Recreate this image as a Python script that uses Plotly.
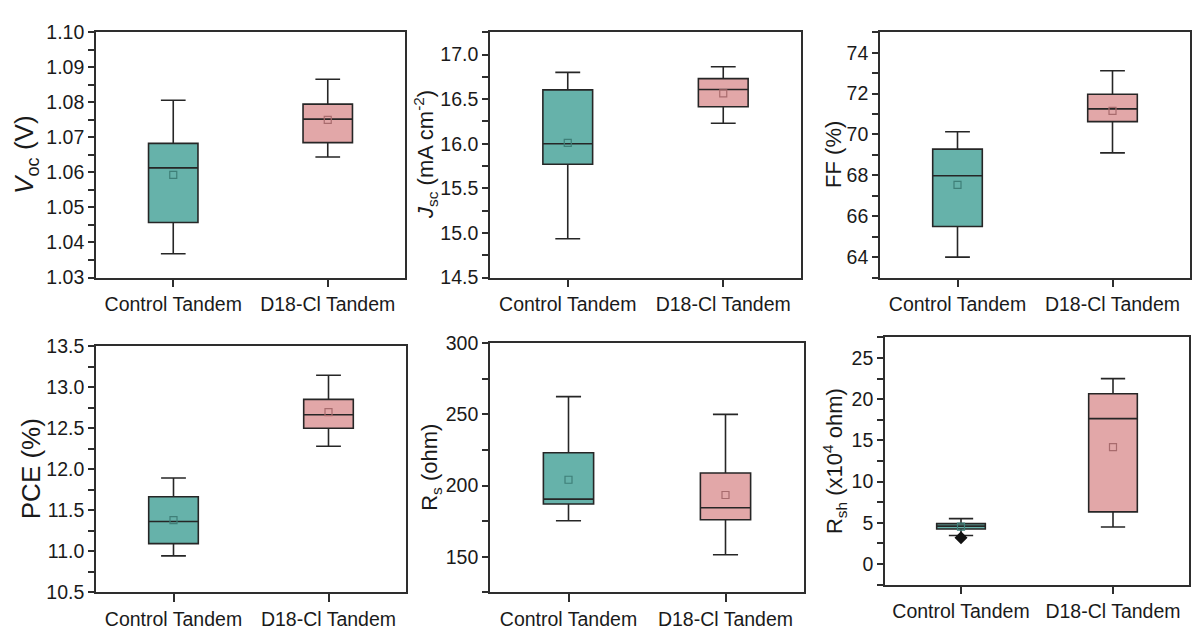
import plotly.graph_objects as go

W, H = 1192, 642

categories = ["Control Tandem", "D18-Cl Tandem"]
fill_colors = ["#66b2aa", "#e2a7a8"]
mean_colors = ["#3f7f78", "#a86b6d"]

# Box statistics per metric: [Control, D18-Cl]
voc_lower = [1.0368, 1.0644]
voc_q1 = [1.0457, 1.0685]
voc_median = [1.0613, 1.0752]
voc_q3 = [1.0683, 1.0795]
voc_upper = [1.0806, 1.0866]
voc_mean = [1.0593, 1.0750]

jsc_lower = [14.935, 16.23]
jsc_q1 = [15.77, 16.414]
jsc_median = [16.00, 16.608]
jsc_q3 = [16.604, 16.73]
jsc_upper = [16.80, 16.863]
jsc_mean = [16.01, 16.565]

ff_lower = [64.0, 69.10]
ff_q1 = [65.50, 70.63]
ff_median = [67.98, 71.25]
ff_q3 = [69.28, 71.97]
ff_upper = [70.13, 73.12]
ff_mean = [67.53, 71.15]

pce_lower = [10.945, 12.28]
pce_q1 = [11.094, 12.50]
pce_median = [11.363, 12.664]
pce_q3 = [11.664, 12.851]
pce_upper = [11.894, 13.145]
pce_mean = [11.38, 12.695]

rs_lower = [175.3, 151.4]
rs_q1 = [187.1, 176.0]
rs_median = [190.5, 184.4]
rs_q3 = [223.1, 208.8]
rs_upper = [262.5, 250.0]
rs_mean = [204.1, 193.4]

rsh_lower = [3.47, 4.49]
rsh_q1 = [4.25, 6.33]
rsh_median = [4.60, 17.65]
rsh_q3 = [4.90, 20.67]
rsh_upper = [5.51, 22.5]
rsh_mean = [4.55, 14.18]
rsh_outlier_control = [3.2]

AX = "#2e2e2e"
FONT = "Liberation Sans, Arial, sans-serif"
TXT = "#1a1a1a"

panels = [
    dict(stats=(voc_lower, voc_q1, voc_median, voc_q3, voc_upper, voc_mean),
         yr=[1.03, 1.10], dt=0.01, mdt=0.005, fmt=".2f",
         px=(96, 405, 22, 276), title="<i>V</i><sub>oc</sub> (V)", ts=26, tx=26),
    dict(stats=(jsc_lower, jsc_q1, jsc_median, jsc_q3, jsc_upper, jsc_mean),
         yr=[14.5, 17.25], dt=0.5, mdt=0.25, fmt=".1f",
         px=(490, 801, 22, 276), title="<i>J</i><sub>sc</sub> (mA cm<sup>-2</sup>)", ts=22, tx=426),
    dict(stats=(ff_lower, ff_q1, ff_median, ff_q3, ff_upper, ff_mean),
         yr=[63, 75], dt=2, mdt=1, fmt="d",
         px=(880, 1190, 22, 276), title="FF (%)", ts=22, tx=834),
    dict(stats=(pce_lower, pce_q1, pce_median, pce_q3, pce_upper, pce_mean),
         yr=[10.5, 13.5], dt=0.5, mdt=0.25, fmt=".1f",
         px=(96, 406, 347, 602), title="PCE (%)", ts=26, tx=31),
    dict(stats=(rs_lower, rs_q1, rs_median, rs_q3, rs_upper, rs_mean),
         yr=[125, 300], dt=50, mdt=25, fmt="d",
         px=(490, 804, 344, 602), title="R<sub>s</sub> (ohm)", ts=22, tx=431),
    dict(stats=(rsh_lower, rsh_q1, rsh_median, rsh_q3, rsh_upper, rsh_mean),
         yr=[-2.5, 27.5], dt=5, mdt=2.5, fmt="d",
         px=(885, 1189, 338, 594), title="R<sub>sh</sub> (x10<sup>4</sup> ohm)", ts=22, tx=834),
]

fig = go.Figure()
layout = {}
annotations = []

for i, p in enumerate(panels, start=1):
    xa = "x" if i == 1 else f"x{i}"
    ya = "y" if i == 1 else f"y{i}"
    lo, q1, med, q3, hi, mean = p["stats"]
    for k, cat in enumerate(categories):
        fig.add_trace(go.Box(
            x=[cat], q1=[q1[k]], median=[med[k]], q3=[q3[k]],
            lowerfence=[lo[k]], upperfence=[hi[k]],
            boxpoints=False, width=0.32, whiskerwidth=0.5,
            fillcolor=fill_colors[k], line=dict(color="#262626", width=1.6),
            xaxis=xa, yaxis=ya, showlegend=False, hoverinfo="skip",
        ))
        fig.add_trace(go.Scatter(
            x=[cat], y=[mean[k]], mode="markers",
            marker=dict(symbol="square-open", size=7,
                        line=dict(color=mean_colors[k], width=1.2),
                        color=mean_colors[k]),
            xaxis=xa, yaxis=ya, showlegend=False, hoverinfo="skip",
        ))
    if i == 6:
        fig.add_trace(go.Scatter(
            x=[categories[0]] * len(rsh_outlier_control), y=rsh_outlier_control,
            mode="markers", marker=dict(symbol="diamond", size=10, color="#111111"),
            xaxis=xa, yaxis=ya, showlegend=False, hoverinfo="skip",
        ))

    l, r, t, b = p["px"]
    xkey = "xaxis" if i == 1 else f"xaxis{i}"
    ykey = "yaxis" if i == 1 else f"yaxis{i}"
    layout[xkey] = dict(
        domain=[l / W, r / W], anchor=ya, type="category",
        categoryorder="array", categoryarray=categories,
        range=[-0.5, 1.5], showline=True, linecolor=AX, linewidth=1.6,
        mirror=True, ticks="outside", ticklen=8, tickwidth=1.6, tickcolor=AX,
        showgrid=False, zeroline=False,
        tickfont=dict(family=FONT, size=19.5, color=TXT),
    )
    layout[ykey] = dict(
        domain=[1 - b / H, 1 - t / H], anchor=xa, range=p["yr"],
        dtick=p["dt"], tick0=0, tickformat=p["fmt"],
        showline=True, linecolor=AX, linewidth=1.6, mirror=True,
        ticks="outside", ticklen=6, tickwidth=1.6, tickcolor=AX,
        minor=dict(dtick=p["mdt"], tick0=0, ticks="outside", ticklen=6,
                   tickwidth=1.6, tickcolor=AX, showgrid=False),
        showgrid=False, zeroline=False,
        tickfont=dict(family=FONT, size=19.5, color=TXT),
    )
    annotations.append(dict(
        text=p["title"], textangle=-90, xref="paper", yref="paper",
        x=p["tx"] / W, y=1 - ((t + b) / 2) / H, xanchor="center", yanchor="middle",
        showarrow=False, font=dict(family=FONT, size=p["ts"], color=TXT),
    ))

fig.update_layout(
    width=W, height=H, margin=dict(l=0, r=0, t=0, b=0),
    paper_bgcolor="white", plot_bgcolor="white",
    boxmode="overlay", showlegend=False, annotations=annotations,
    **layout,
)

fig.write_html("out.html")
